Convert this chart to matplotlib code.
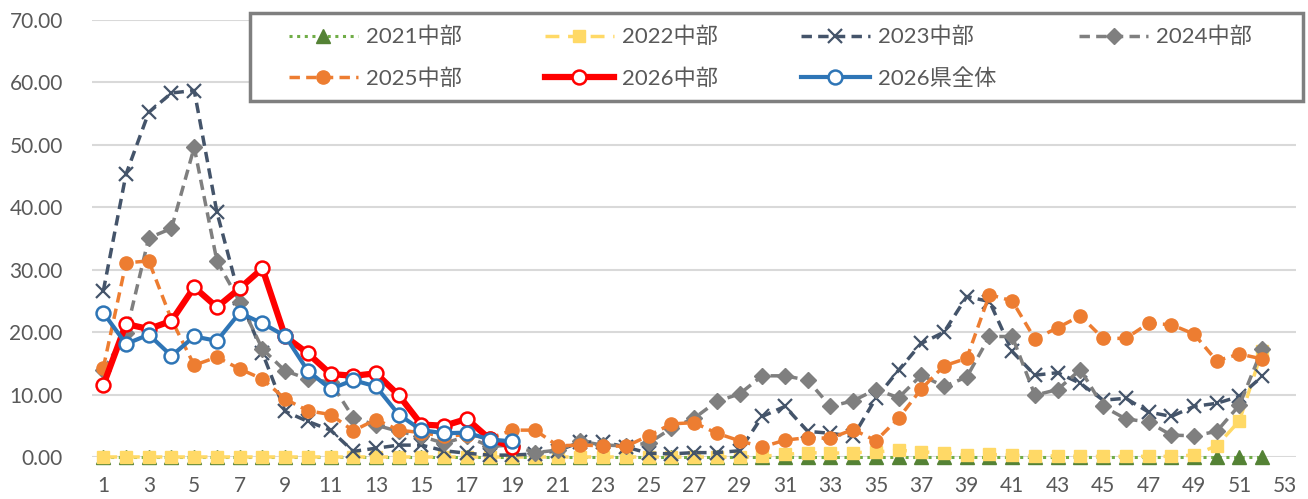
import numpy as np
import matplotlib
matplotlib.use('Agg')
import matplotlib.pyplot as plt
from matplotlib.patches import Rectangle

plt.rcParams['font.family'] = ['Lato', 'Noto Sans CJK JP', 'DejaVu Sans']

# weekly values (week 1..52)
weeks = np.arange(1, 53)

y2021 = [0.0, 0.0, 0.0, 0.0, 0.0, 0.0, 0.0, 0.0, 0.0, 0.0, 0.0, 0.0, 0.0,
         0.0, 0.0, 0.0, 0.0, 0.0, 0.0, 0.0, 0.0, 0.0, 0.0, 0.0, 0.0, 0.0,
         0.0, 0.0, 0.0, 0.0, 0.0, 0.0, 0.0, 0.0, 0.0, 0.0, 0.0, 0.0, 0.0,
         0.0, 0.0, 0.0, 0.0, 0.0, 0.0, 0.0, 0.0, 0.0, 0.0, 0.0, 0.0, 0.0]

y2022 = [0.0, 0.0, 0.0, 0.0, 0.0, 0.0, 0.0, 0.0, 0.0, 0.0, 0.0, 0.0, 0.0,
         0.0, 0.0, 0.0, 0.0, 0.0, 0.0, 0.0, 0.0, 0.0, 0.0, 0.0, 0.0, 0.0,
         0.0, 0.0, 0.0, 0.1, 0.4, 0.7, 0.6, 0.7, 0.8, 1.1, 0.8, 0.7, 0.3,
         0.4, 0.3, 0.1, 0.2, 0.1, 0.1, 0.1, 0.1, 0.1, 0.3, 1.8, 5.8, 17.0]

y2023 = [26.6, 45.3, 55.2, 58.3, 58.7, 39.2, 25.5, 16.7, 7.3, 5.7, 4.3, 0.9, 1.4,
         1.9, 1.9, 1.0, 0.6, 0.3, 0.3, 0.5, 1.0, 2.4, 2.4, 1.6, 0.6, 0.5,
         0.7, 0.7, 1.0, 6.5, 8.1, 4.1, 3.8, 3.3, 9.4, 13.9, 18.2, 20.0, 25.7,
         24.9, 16.9, 13.1, 13.5, 11.8, 9.1, 9.4, 7.2, 6.5, 8.1, 8.6, 9.7, 12.9]

y2024 = [13.9, 19.8, 35.1, 36.6, 49.6, 31.4, 24.9, 17.3, 13.8, 12.5, 12.0, 6.3, 5.1,
         4.1, 3.3, 2.2, 3.3, 1.7, 1.9, 0.7, 1.1, 2.5, 1.9, 1.8, 2.2, 4.6,
         6.2, 8.9, 10.1, 13.0, 13.0, 12.3, 8.1, 9.0, 10.8, 9.5, 13.1, 11.3, 12.8,
         19.3, 19.3, 9.9, 10.8, 14.0, 8.1, 6.1, 5.6, 3.5, 3.4, 4.1, 8.3, 17.3]

y2025 = [14.3, 31.1, 31.4, 22.0, 14.7, 16.0, 14.1, 12.5, 9.3, 7.4, 6.8, 4.2, 6.0,
         4.3, 3.9, 3.3, 3.6, 3.0, 4.3, 4.3, 1.8, 1.9, 1.8, 1.7, 3.4, 5.3,
         5.5, 3.8, 2.6, 1.6, 2.7, 3.1, 3.0, 4.4, 2.6, 6.2, 10.9, 14.6, 15.8,
         26.0, 25.0, 18.9, 20.7, 22.6, 19.0, 19.0, 21.4, 21.2, 19.7, 15.4, 16.5, 15.7]

y2026 = [11.5, 21.3, 20.5, 21.8, 27.2, 24.0, 27.0, 30.2, 19.3, 16.6, 13.3, 13.0, 13.4,
         9.9, 5.2, 5.0, 6.1, 2.9, 1.6]

y2026_pref = [23.1, 18.1, 19.6, 16.2, 19.3, 18.6, 23.1, 21.4, 19.4, 13.8, 10.9, 12.3, 11.3,
              6.8, 4.3, 3.8, 3.9, 2.8, 2.5]

W, H = 1308, 499
fig = plt.figure(figsize=(W / 100, H / 100), dpi=100)
ax = fig.add_axes([0.0703, 0.0842, 0.9207, 0.8758])

dash = (0, (3, 1.8))
h21, = ax.plot(weeks, y2021, color='#70AD47', linestyle=(0, (1, 1.5)), linewidth=2.2,
               marker='^', markersize=10, markerfacecolor='#548235', markeredgecolor='#548235',
               label='2021中部', zorder=3, clip_on=False)
h22, = ax.plot(weeks, y2022, color='#FFD966', linestyle=(0, (4, 2.5)), linewidth=2.5,
               marker='s', markersize=9, markerfacecolor='#FFD966', markeredgecolor='#FFD966',
               label='2022中部', zorder=3.1, clip_on=False)
h23, = ax.plot(weeks, y2023, color='#44546A', linestyle=dash, linewidth=2.5,
               marker='x', markersize=10, markeredgewidth=1.6,
               label='2023中部', zorder=3.2, clip_on=False)
h24, = ax.plot(weeks, y2024, color='#7F7F7F', linestyle=dash, linewidth=2.5,
               marker='D', markersize=8, markerfacecolor='#7F7F7F', markeredgecolor='#7F7F7F',
               label='2024中部', zorder=3.3, clip_on=False)
h25, = ax.plot(weeks, y2025, color='#ED7D31', linestyle=dash, linewidth=2.5,
               marker='o', markersize=9.5, markerfacecolor='#ED7D31', markeredgecolor='#ED7D31',
               label='2025中部', zorder=3.4, clip_on=False)
h26, = ax.plot(weeks[:len(y2026)], y2026, color='#FF0000', linewidth=4.5,
               marker='o', markersize=10, markerfacecolor='white', markeredgecolor='#FF0000',
               markeredgewidth=1.8, label='2026中部', zorder=3.5, clip_on=False)
h26p, = ax.plot(weeks[:len(y2026_pref)], y2026_pref, color='#2E75B6', linewidth=3,
                marker='o', markersize=10, markerfacecolor='white', markeredgecolor='#2E75B6',
                markeredgewidth=1.8, label='2026県全体', zorder=3.6, clip_on=False)

ax.set_xlim(0.5, 53.5)
ax.set_ylim(0, 70)
ax.set_xticks(np.arange(1, 54, 2))
ax.set_yticks(np.arange(0, 71, 10))
ax.set_yticklabels([f'{v:.2f}' for v in np.arange(0, 71, 10)])
ax.tick_params(length=0, labelsize=15, labelcolor='#595959')
ax.tick_params(axis='x', pad=14)
ax.tick_params(axis='y', pad=21)
ax.grid(axis='y', color='#D9D9D9', linewidth=1.5)
ax.set_axisbelow(True)
for s in ax.spines.values():
    s.set_visible(False)

# legend frame drawn separately so the entries can sit with Excel-like padding
fig.patches.append(Rectangle((250 / W, 1 - 101 / H), (1303 - 250) / W, 88 / H,
                             transform=fig.transFigure, facecolor='white',
                             edgecolor='#7F7F7F', linewidth=2.5, zorder=9))

# column-major order so the rows read 2021..2024 / 2025, 2026, 2026県全体
handles = [h21, h25, h22, h26, h23, h26p, h24]
leg = fig.legend(handles, [h.get_label() for h in handles], ncol=4,
                 loc='upper left', bbox_to_anchor=(289 / W, 1 - 32 / H, (1252 - 289) / W, 0.01),
                 mode='expand', fontsize=16, frameon=False,
                 handlelength=3.1, handletextpad=0.35, borderaxespad=0,
                 labelspacing=0.95, borderpad=0, labelcolor='#595959')
leg.set_zorder(10)

fig.savefig('out.png', dpi=100)
